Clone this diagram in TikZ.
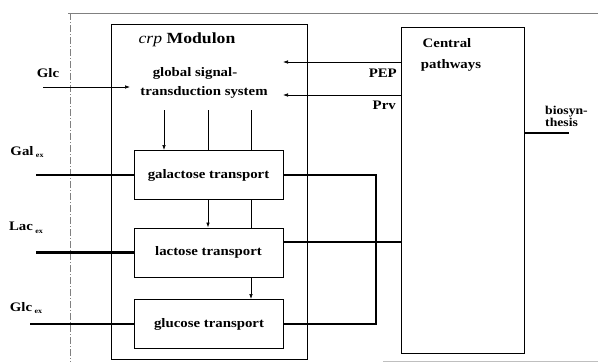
\documentclass[tikz,border=0pt]{standalone}
\usepackage{fontspec}
\setmainfont{Liberation Serif}
\usetikzlibrary{arrows.meta}
\newcommand{\subex}{\,\raisebox{-2.5pt}{\fontsize{7}{8}\selectfont ex}}
\begin{document}
\begin{tikzpicture}[x=1pt,y=-1pt,
  txt/.style={xscale=1.14, inner sep=0pt, font=\fontsize{13}{15}\selectfont\bfseries},
  box/.style={draw, line width=1pt, fill=white, minimum width=149pt,
              minimum height=49pt, inner sep=0pt},
  frame/.style={draw, line width=1pt, inner sep=0pt},
  fine/.style={line width=0.7pt},
  feed/.style={line width=2.7pt, line join=miter},
  tip/.style={-{Latex[length=5pt,width=3.6pt]}},
  border/.style={gray, line width=0.6pt}]
\useasboundingbox (0,0) rectangle (598,362);

% page border lines
\draw[border] (68,13) -- (598,13);
\draw[border, dash pattern=on 7pt off 2pt on 1pt off 2pt] (70,13) -- (70,362);
\draw[gray!50, line width=0.6pt] (383,361) -- (598,361);

% main blocks
\node[frame, minimum width=196pt, minimum height=335pt] (mod) at (209,191.5) {};
\node[frame, minimum width=123pt, minimum height=326pt] (cen) at (462.5,190) {};

\node[txt, font=\fontsize{15.5}{18}\selectfont] (modt) at (187,40) {\textit{crp} \textbf{Modulon}};
\node[txt] (cen1) at (447,43) {Central};
\node[txt] (cen2) at (451,65) {pathways};

\node[txt] (sig1) at (195,73) {global signal-};
\node[txt] (sig2) at (204,92) {transduction system};

% regulatory signals
\coordinate (s1) at (164,110);
\coordinate (s2) at (208,110);
\coordinate (s3) at (251,110);

% transport systems
\node[box] (gal) at (208.5,175) {};
\node[box] (lac) at (208.5,252.5) {};
\node[box] (glc) at (209,324) {};

\draw[fine, tip] (s1) -- (s1 |- gal.north);
\draw[fine] (s2) -- (s2 |- gal.north);
\draw[fine] (s3) -- (s3 |- gal.north);
\draw[fine, tip] (s2 |- gal.south) -- (s2 |- lac.north);
\draw[fine] (s3 |- gal.south) -- (s3 |- lac.north);
\draw[fine, tip] (s3 |- lac.south) -- (s3 |- glc.north);

\node[txt] (galt) at (gal.center) {galactose transport};
\node[txt] (lact) at (lac.center) {lactose transport};
\node[txt] (glct) at (glc.center) {glucose transport};

% glucose signal input
\node[txt] (glcin) at (48,73) {Glc};
\coordinate (gin) at (43,87);
\coordinate (gend) at (130,87);
\draw[fine, tip] (gin) -- (gend);

% metabolites from central pathways
\coordinate (pep) at (283,62);
\coordinate (prv) at (283,95);
\draw[fine, tip] (pep -| cen.west) -- (pep);
\draw[fine, tip] (prv -| cen.west) -- (prv);
\node[txt, anchor=east] (pept) at (397,73) {PEP};
\node[txt, anchor=east] (prvt) at (396,105) {Prv};

% biosynthesis output
\coordinate (bio) at (569,133);
\draw[line width=1.8pt] (bio -| cen.east) -- (bio);
\node[txt, anchor=west, align=left, font=\fontsize{12}{12.5}\selectfont\bfseries] (biot) at (545,116.5) {biosyn-\\thesis};

% external substrates
\node[txt] (galx) at (27,152) {Gal\subex};
\node[txt] (lacx) at (26,228) {Lac\subex};
\node[txt] (glcx) at (26,308) {Glc\subex};
\coordinate (galin) at (36,175);
\coordinate (lacin) at (36,252.5);
\coordinate (glcin2) at (30,324);
\draw[feed] (galin) -- (gal.west);
\draw[feed] (lacin) -- (lac.west);
\draw[feed] (glcin2) -- (glc.west);

% uptake into central pathways
\coordinate (loop) at (376,0);
\coordinate (lacout) at (401,242);
\draw[feed] (gal.east) -- (gal.east -| loop) -- (glc.east -| loop) -- (glc.east);
\draw[feed] (lacout -| lac.east) -- (lacout);
\end{tikzpicture}
\end{document}
